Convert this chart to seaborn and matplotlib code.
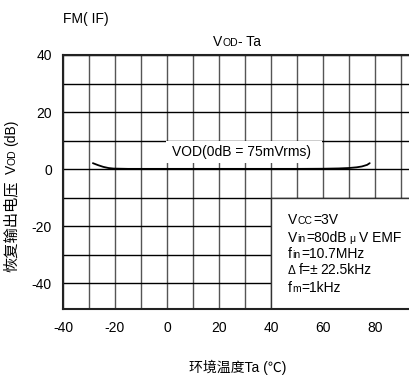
import matplotlib
matplotlib.use("Agg")
import matplotlib.pyplot as plt
import matplotlib.transforms as mtransforms
from matplotlib.patches import Rectangle
from matplotlib.ticker import MultipleLocator
import seaborn as sns
import pandas as pd

# Datos
temp = [-28.5, -26.5, -24.5, -22.5, -20.5, -15, -10, 0, 10, 20, 30, 40, 50, 60, 66, 70, 73, 75, 77, 78]
vod = [2.1, 1.4, 0.8, 0.4, 0.2, 0.1, 0.1, 0.1, 0.1, 0.1, 0.1, 0.1, 0.1, 0.15, 0.25, 0.4, 0.65, 0.95, 1.5, 2.1]
xticks = [-40, -20, 0, 20, 40, 60, 80]
yticks = [-40, -20, 0, 20, 40]

W, H = 410, 376
FS = 10
sns.set_style("white")
plt.rcParams["font.family"] = ["Liberation Sans", "Noto Sans CJK SC", "DejaVu Sans"]
plt.rcParams["axes.unicode_minus"] = False
plt.rcParams["text.color"] = "black"
plt.rcParams["xtick.color"] = "black"
plt.rcParams["ytick.color"] = "black"

fig = plt.figure(figsize=(W / 100, H / 100), dpi=100)
ax = fig.add_axes([63 / W, 1 - 309 / H, (W - 63) / W, (309 - 55) / H])

df = pd.DataFrame({"Ta": temp, "VOD": vod})
sns.lineplot(data=df, x="Ta", y="VOD", color="black", lw=1.3, sort=False,
             estimator=None, ax=ax, zorder=3)

ax.set_xlim(-40, 93.5)
ax.set_ylim(-49, 40)
ax.xaxis.set_major_locator(MultipleLocator(20))
ax.xaxis.set_minor_locator(MultipleLocator(10))
ax.yaxis.set_major_locator(MultipleLocator(20))
ax.yaxis.set_minor_locator(MultipleLocator(10))
ax.set_xticks(xticks)
ax.set_yticks(yticks)
ax.set_axisbelow(True)
ax.xaxis.grid(True, which="both", color="#555555", lw=1)
ax.yaxis.grid(True, which="both", color="black", lw=1)
ax.tick_params(which="both", length=0, labelsize=FS, labelcolor="black")
ax.tick_params(axis="x", pad=9)
ax.tick_params(axis="y", pad=8)
ax.set_xlabel("")
ax.set_ylabel("")
for s in ["left", "bottom", "top"]:
    ax.spines[s].set_linewidth(1.5)
    ax.spines[s].set_color("#222222")
ax.spines["right"].set_visible(False)

# Cajas blancas
ax.add_patch(Rectangle((-0.5, 2.2), 60, 7.8, facecolor="white", edgecolor="none", zorder=1))
ax.add_patch(Rectangle((40, -60), 100, 50, facecolor="white", edgecolor="#333333", lw=1, zorder=1))
ax.text(28.5, 6, "VOD(0dB = 75mVrms)", ha="center", va="center", fontsize=FS, zorder=4)

ident = mtransforms.IdentityTransform()
renderer = fig.canvas.get_renderer()


def chain(parts, x, y, size, center=False):
    # parts: (texto, escala, separación previa en px)
    texts = []
    for s, scale, gap in parts:
        t = fig.text(0, 0, s, fontsize=size * scale, ha="left", va="baseline", transform=ident)
        texts.append((t, gap, t.get_window_extent(renderer).width))
    total = sum(g + w for _, g, w in texts)
    pos = (x - total / 2) if center else x
    for t, gap, w in texts:
        pos += gap
        t.set_position((pos, H - y))
        pos += w


SM = 0.75
fig.text(63, H - 23, "FM( IF)", fontsize=FS, transform=ident, ha="left", va="baseline")
chain([("V", 1, 0), ("OD", SM, 0.5), ("- Ta", 1, 0.5)], 237, 46, FS, center=True)

chain([("V", 1, 0), ("CC", SM, 0.5), ("=3V", 1, 0.5)], 288, 224.5, FS)
chain([("V", 1, 0), ("in", SM, 0.5), ("=80dB", 1, 0.5), ("μ", SM, 2),
       ("V EMF", 1, 4)], 288, 241.5, FS)
chain([("f", 1, 0), ("in", SM, 0.5), ("=10.7MHz", 1, 0.5)], 288, 258, FS)
chain([("Δ", 0.85, 0), ("f=±", 1, 3), ("22.5kHz", 1, 2)], 288, 274.5, FS)
chain([("f", 1, 0), ("m", SM, 0.5), ("=1kHz", 1, 0.5)], 288, 291.5, FS)

# Etiqueta vertical (de abajo hacia arriba)
ylab = [("恢复输出电压", 1.1, 0), ("V", 1, 6), ("OD", SM, 0.5), ("(dB)", 1, 3)]
pos = 272
for s, scale, gap in ylab:
    t = fig.text(0, 0, s, fontsize=FS * scale, rotation=90,
                 rotation_mode="anchor", ha="left", va="baseline", transform=ident)
    pos -= gap
    t.set_position((15.5, H - pos))
    pos -= t.get_window_extent(renderer).height

fig.text(238, H - 367, "环境温度Ta (℃)", fontsize=FS, ha="center", va="center", transform=ident)

fig.savefig("out.png", dpi=100)
